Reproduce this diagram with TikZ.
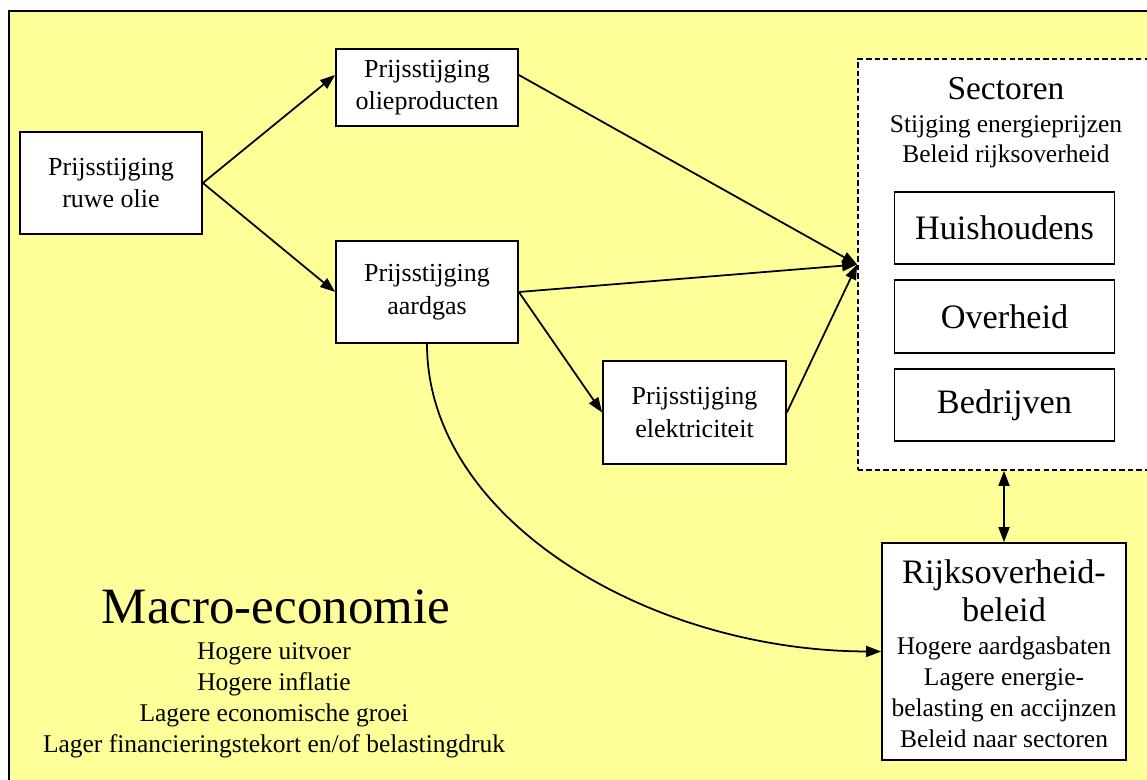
\documentclass[tikz,border=0pt]{standalone}
\usepackage{fontspec}
\setmainfont{Liberation Serif}
\usetikzlibrary{arrows.meta}
\definecolor{paleyellow}{HTML}{FFFF99}

\begin{document}
\begin{tikzpicture}[x=0.02cm,y=-0.02cm,
  box/.style={draw,fill=white,line width=1pt,inner sep=0pt,align=center,font=\fontsize{14.8}{18.5}\selectfont},
  sbox/.style={box,minimum width=4.4cm,minimum height=1.45cm,font=\fontsize{19.5}{23}\selectfont},
  txt/.style={align=center,inner sep=0pt,anchor=base,font=\fontsize{14.5}{17.6}\selectfont},
  ar/.style={-{Triangle[length=3mm,width=2.2mm]},line width=1pt}]
\useasboundingbox (0,0) rectangle (1147,780);
\clip (0,0) rectangle (1147,780);
\draw[fill=paleyellow,line width=1.2pt] (9,11) rectangle (1170,800);

% price chain
\node[box,minimum width=3.64cm,minimum height=2.04cm] (ruwe) at (111,183)   {Prijsstijging\\ruwe olie};
\node[box,minimum width=3.64cm,minimum height=1.54cm] (olie) at (427,87.5)  {Prijsstijging\\olieproducten};
\node[box,minimum width=3.64cm,minimum height=2.04cm] (gas)  at (427,292)   {Prijsstijging\\aardgas};
\node[box,minimum width=3.66cm,minimum height=2.06cm] (elek) at (694.5,412.5) {Prijsstijging\\elektriciteit};

% sectors
\node[draw,fill=white,line width=1pt,dash pattern=on 3pt off 1.8pt,minimum width=6.4cm,minimum height=8.22cm,inner sep=0pt]
  (sect) at (1018,264.5) {};
\node[txt,font=\fontsize{19}{22}\selectfont] (secttitle) at (1006,100) {Sectoren};
\node[txt] (sectsub) at (1006,163) {Stijging energieprijzen\\Beleid rijksoverheid};
\node[sbox] (huis) at (1004.5,228)   {Huishoudens};
\node[sbox] (over) at (1004.5,316.5) {Overheid};
\node[sbox] (bedr) at (1004.5,405)   {Bedrijven};

% government policy
\node[box,minimum width=4.88cm,minimum height=4.34cm] (rijk) at (1004,651.5) {};
\node[txt,font=\fontsize{19.5}{22}\selectfont] (rijktitle) at (1004,622) {Rijksoverheid-\\beleid};
\node[txt] (rijksub) at (1004,747) {Hogere aardgasbaten\\Lagere energie-\\belasting en accijnzen\\Beleid naar sectoren};

% macro economy
\node[txt,font=\fontsize{29}{32}\selectfont] (macro) at (276,623) {Macro-economie};
\node[txt] (macrosub) at (274,752) {Hogere uitvoer\\Hogere inflatie\\Lagere economische groei\\Lager financieringstekort en/of belastingdruk};

\draw[ar] (ruwe.east) -- ([yshift=0.25cm]olie.west);
\draw[ar] (ruwe.east) -- (gas.west);
\draw[ar] ([yshift=0.25cm]olie.east) -- (sect.west);
\draw[ar] (gas.east) -- (sect.west);
\draw[ar] (gas.east) -- (elek.west);
\draw[ar] (elek.east) -- (sect.west);
\draw[ar] (gas.south) .. controls (427,520) and (650,651) .. (rijk.west);
\draw[{Triangle[length=3mm,width=2.2mm]}-{Triangle[length=3mm,width=2.2mm]},line width=1pt]
  (rijk.north) -- (rijk.north |- sect.south);
\end{tikzpicture}
\end{document}
